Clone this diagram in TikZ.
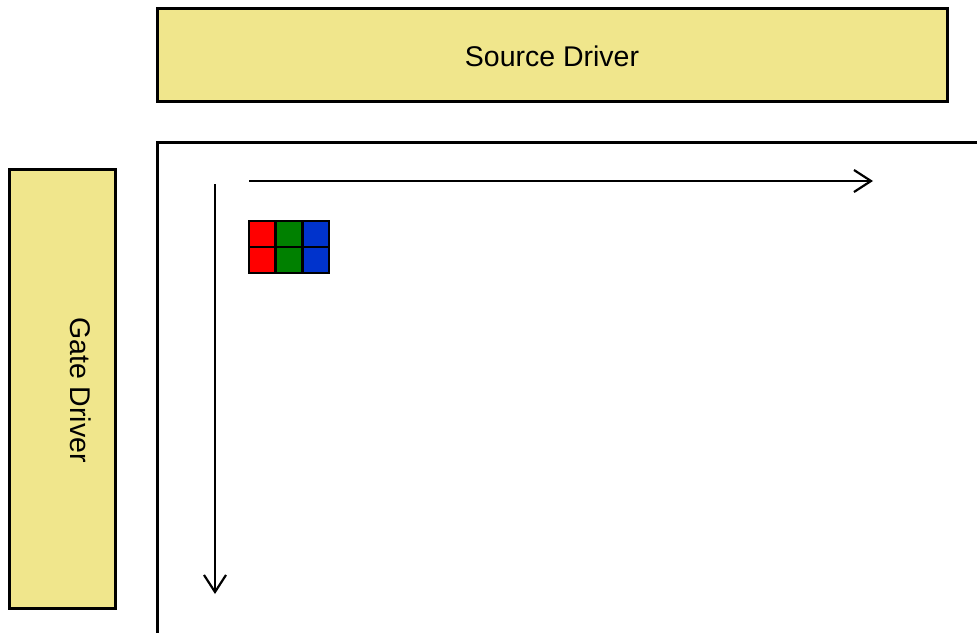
\documentclass[tikz,border=0pt]{standalone}
\usepackage{fontspec}
\setmainfont{Liberation Sans}
\usetikzlibrary{arrows.meta}
\definecolor{drv}{HTML}{F0E68C}
\definecolor{pr}{HTML}{FF0000}
\definecolor{pg}{HTML}{008000}
\definecolor{pb}{HTML}{0033CC}
\begin{document}
\begin{tikzpicture}[x=1pt,y=-1pt,
  driver/.style={draw=black,line width=3pt,fill=drv,inner sep=0pt},
  lbl/.style={font=\fontsize{28.5}{32}\selectfont},
  subpix/.style={draw=black,line width=2.8pt,minimum width=26.7pt,minimum height=26pt,inner sep=0pt},
  scanarrow/.style={line width=2.2pt,-{Straight Barb[length=17pt,width=22pt]}}]
\useasboundingbox (0,0) rectangle (977,632);
\node[driver,minimum width=790pt,minimum height=93pt] (src) at (552,54.5) {};
\node[lbl] (srclbl) at (552,56) {Source Driver};
\node[driver,minimum width=106pt,minimum height=439pt] (gate) at (62,388.5) {};
\node[lbl,rotate=-90] (gatelbl) at (81,390) {Gate Driver};
\draw[line width=3pt] (157,700) -- (157,142) -- (1100,142);
\coordinate (hs) at (249,181);
\coordinate (he) at (873,181);
\coordinate (vs) at (215,184);
\coordinate (ve) at (215,594);
\draw[scanarrow] (hs) -- (he);
\draw[scanarrow] (vs) -- (ve);
\node[subpix,fill=pr] (r1) at (262.3,234) {};
\node[subpix,fill=pg] (g1) at (289,234) {};
\node[subpix,fill=pb] (b1) at (315.7,234) {};
\node[subpix,fill=pr] (r2) at (262.3,260) {};
\node[subpix,fill=pg] (g2) at (289,260) {};
\node[subpix,fill=pb] (b2) at (315.7,260) {};
\end{tikzpicture}
\end{document}
